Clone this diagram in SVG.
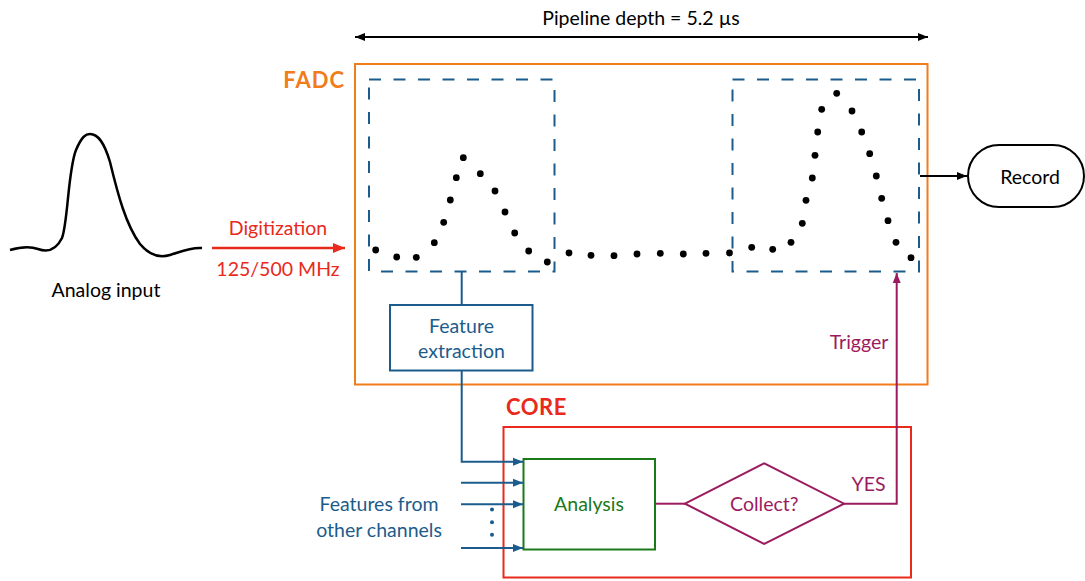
<svg xmlns="http://www.w3.org/2000/svg" width="1085" height="581" viewBox="0 0 1085 581">
<style>
text{font-family:Lato,"Open Sans","Liberation Sans",sans-serif;}
.lbl{font-size:19.5px;text-anchor:middle;}
.dash{fill:none;stroke:#1C5C8C;stroke-width:2;stroke-dasharray:12 12.5;}
.dot{fill:#000;}
.blue{stroke:#1C5C8C;stroke-width:2;fill:none;}
.purp{stroke:#9C1B5E;stroke-width:2;fill:none;}
</style>
<defs>
<marker id="ab" viewBox="0 0 10 10" refX="10" refY="5" markerWidth="10" markerHeight="10" markerUnits="userSpaceOnUse" orient="auto"><path d="M0,1 L10,5 L0,9 z" fill="#000"/></marker>
<marker id="ab2" viewBox="0 0 10 10" refX="10" refY="5" markerWidth="10" markerHeight="10" markerUnits="userSpaceOnUse" orient="auto-start-reverse"><path d="M0,1 L10,5 L0,9 z" fill="#000"/></marker>
<marker id="ablue" viewBox="0 0 10 10" refX="10" refY="5" markerWidth="10" markerHeight="10" markerUnits="userSpaceOnUse" orient="auto"><path d="M0,1 L10,5 L0,9 z" fill="#1C5C8C"/></marker>
<marker id="apurp" viewBox="0 0 10 10" refX="10" refY="5" markerWidth="10" markerHeight="10" markerUnits="userSpaceOnUse" orient="auto"><path d="M0,1 L10,5 L0,9 z" fill="#9C1B5E"/></marker>
<marker id="ared" viewBox="0 0 12 12" refX="12" refY="6" markerWidth="12" markerHeight="12" markerUnits="userSpaceOnUse" orient="auto"><path d="M0,1 L12,6 L0,11 z" fill="#E8291C"/></marker>
</defs>

<g id="pipeline">
<text x="641" y="25" class="lbl" fill="#000">Pipeline depth = 5.2 µs</text>
<line x1="355" y1="37" x2="928" y2="37" stroke="#000" stroke-width="2" marker-start="url(#ab2)" marker-end="url(#ab)"/>
</g>

<g id="analog">
<path d="M10,250 C20,247 30,246 38,249 C46,252 55,252 62,238 C68,222 68,170 76,150 C82,136 86,134 90,134 C98,134 104,142 110,162 C118,195 126,225 140,244 C150,256 160,258 170,255 C180,252 190,247 202,248" fill="none" stroke="#000" stroke-width="2.5"/>
<text x="106" y="297" class="lbl" fill="#000">Analog input</text>
</g>

<g id="digitization">
<line x1="212" y1="248" x2="345" y2="248" stroke="#E8291C" stroke-width="2.5" marker-end="url(#ared)"/>
<text x="278" y="235" class="lbl" fill="#E8291C">Digitization</text>
<text x="278" y="276" class="lbl" fill="#E8291C">125/500 MHz</text>
</g>

<g id="fadc">
<rect x="355" y="64" width="572.5" height="320.5" fill="none" stroke="#F07C1A" stroke-width="2"/>
<text x="345" y="88" font-size="22" font-weight="bold" letter-spacing="1" text-anchor="end" fill="#F07C1A">FADC</text>
<rect x="369" y="79.5" width="185.5" height="192" class="dash"/>
<rect x="732.5" y="79.5" width="186.5" height="192" class="dash"/>
</g>

<g id="samples">
<circle class="dot" cx="375.7" cy="250" r="3.4"/>
<circle class="dot" cx="396.7" cy="257" r="3.4"/>
<circle class="dot" cx="416.3" cy="257.3" r="3.4"/>
<circle class="dot" cx="434.3" cy="242.7" r="3.4"/>
<circle class="dot" cx="443.7" cy="222.3" r="3.4"/>
<circle class="dot" cx="450.3" cy="200" r="3.4"/>
<circle class="dot" cx="456.3" cy="177.7" r="3.4"/>
<circle class="dot" cx="463.3" cy="157.7" r="3.4"/>
<circle class="dot" cx="480.3" cy="173.7" r="3.4"/>
<circle class="dot" cx="495" cy="191" r="3.4"/>
<circle class="dot" cx="505" cy="212" r="3.4"/>
<circle class="dot" cx="514.7" cy="233" r="3.4"/>
<circle class="dot" cx="528.7" cy="251" r="3.4"/>
<circle class="dot" cx="547.3" cy="262" r="3.4"/>
<circle class="dot" cx="569" cy="253" r="3.4"/>
<circle class="dot" cx="591" cy="255.3" r="3.4"/>
<circle class="dot" cx="614" cy="255.7" r="3.4"/>
<circle class="dot" cx="637" cy="254" r="3.4"/>
<circle class="dot" cx="660.3" cy="253.3" r="3.4"/>
<circle class="dot" cx="683.3" cy="254" r="3.4"/>
<circle class="dot" cx="706" cy="253.3" r="3.4"/>
<circle class="dot" cx="729.5" cy="253" r="3.4"/>
<circle class="dot" cx="751.7" cy="247.3" r="3.4"/>
<circle class="dot" cx="772.7" cy="249.3" r="3.4"/>
<circle class="dot" cx="791" cy="242.3" r="3.4"/>
<circle class="dot" cx="802.3" cy="223.3" r="3.4"/>
<circle class="dot" cx="806" cy="200.3" r="3.4"/>
<circle class="dot" cx="812.3" cy="178" r="3.4"/>
<circle class="dot" cx="815" cy="155.3" r="3.4"/>
<circle class="dot" cx="817.7" cy="132" r="3.4"/>
<circle class="dot" cx="821.7" cy="109.3" r="3.4"/>
<circle class="dot" cx="836.7" cy="93.3" r="3.4"/>
<circle class="dot" cx="852" cy="111" r="3.4"/>
<circle class="dot" cx="861.7" cy="132" r="3.4"/>
<circle class="dot" cx="869.7" cy="153.7" r="3.4"/>
<circle class="dot" cx="876.3" cy="176" r="3.4"/>
<circle class="dot" cx="881.7" cy="198.3" r="3.4"/>
<circle class="dot" cx="888" cy="220.7" r="3.4"/>
<circle class="dot" cx="896" cy="242.3" r="3.4"/>
<circle class="dot" cx="911" cy="257.7" r="3.4"/>
</g>

<g id="feature">
<rect x="390" y="305" width="142.5" height="65.5" fill="#fff" stroke="#1C5C8C" stroke-width="2"/>
<text x="461.5" y="333" class="lbl" fill="#1C5C8C">Feature</text>
<text x="461.5" y="358" class="lbl" fill="#1C5C8C">extraction</text>
</g>

<g id="record">
<rect x="968" y="145" width="116" height="62" rx="31" fill="#fff" stroke="#000" stroke-width="2"/>
<text x="1030" y="184" class="lbl" fill="#000">Record</text>
</g>

<g id="core">
<rect x="503.5" y="427" width="407.5" height="150.5" fill="none" stroke="#E8291C" stroke-width="2"/>
<text x="506" y="415" font-size="22" font-weight="bold" letter-spacing="0.5" fill="#E8291C">CORE</text>
</g>

<g id="analysis">
<rect x="523.5" y="459" width="131.5" height="90.5" fill="#fff" stroke="#1A7A1A" stroke-width="2"/>
<text x="589" y="511" class="lbl" fill="#1A7A1A">Analysis</text>
</g>

<g id="collect">
<polygon points="685,503.7 764.3,463.3 844,503.7 764.3,544" fill="#fff" stroke="#9C1B5E" stroke-width="2"/>
<text x="764.3" y="511" class="lbl" fill="#9C1B5E">Collect?</text>
</g>

<g id="labels">
<text x="379" y="511" class="lbl" fill="#1C5C8C">Features from</text>
<text x="379" y="537" class="lbl" fill="#1C5C8C">other channels</text>
<circle cx="492" cy="509.5" r="2" fill="#1C5C8C"/>
<circle cx="492" cy="522.3" r="2" fill="#1C5C8C"/>
<circle cx="492" cy="534.7" r="2" fill="#1C5C8C"/>
<text x="859" y="349" class="lbl" fill="#9C1B5E">Trigger</text>
<text x="868.5" y="491" class="lbl" fill="#9C1B5E">YES</text>
</g>

<g id="connectors">
<line x1="920" y1="176" x2="967" y2="176" stroke="#000" stroke-width="2" marker-end="url(#ab)"/>
<line x1="461.7" y1="272" x2="461.7" y2="305" class="blue"/>
<polyline points="461.7,370.5 461.7,461.7 523,461.7" class="blue" marker-end="url(#ablue)"/>
<line x1="461" y1="482.7" x2="523" y2="482.7" class="blue" marker-end="url(#ablue)"/>
<line x1="461" y1="504.3" x2="523" y2="504.3" class="blue" marker-end="url(#ablue)"/>
<line x1="461" y1="548" x2="523" y2="548" class="blue" marker-end="url(#ablue)"/>
<line x1="655" y1="503.7" x2="685" y2="503.7" class="purp"/>
<polyline points="844,503.7 896.7,503.7 896.7,273" class="purp" marker-end="url(#apurp)"/>
</g>
</svg>
